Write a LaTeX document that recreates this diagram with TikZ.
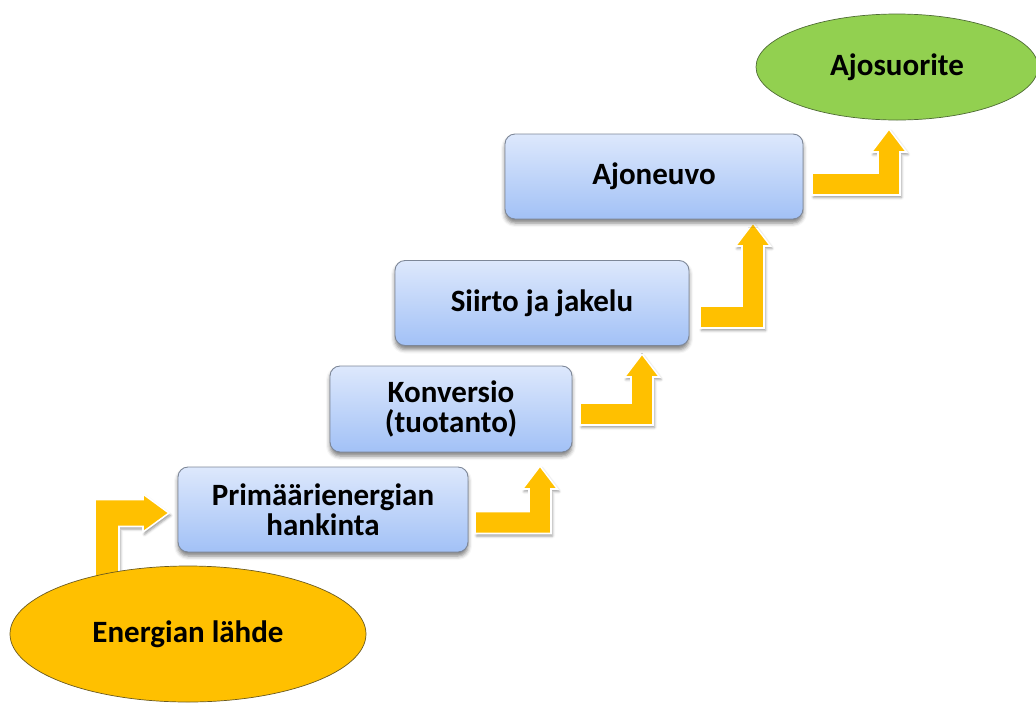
\documentclass[tikz,border=0pt]{standalone}
\usepackage{fontspec}
\setmainfont{Carlito}
\usetikzlibrary{calc,shapes.geometric,shadows.blur}

\definecolor{boxtop}{HTML}{DDE8FC}
\definecolor{boxbot}{HTML}{A2C1F6}
\definecolor{boxedge}{HTML}{7D8798}
\definecolor{arrowyellow}{HTML}{FFC000}
\definecolor{srcfill}{HTML}{FFC000}
\definecolor{srcedge}{HTML}{6B5A20}
\definecolor{goalfill}{HTML}{92D050}
\definecolor{goaledge}{HTML}{4F6B35}

\tikzset{
  labeltext/.style={font=\bfseries\fontsize{31}{30}\selectfont, align=center, text=black},
  stage/.style={labeltext, rounded corners=10pt, draw=boxedge, line width=0.9pt,
    top color=boxtop, bottom color=boxbot, inner sep=0pt,
    blur shadow={shadow xshift=0pt, shadow yshift=-4pt, shadow blur radius=4pt, shadow opacity=50}},
  endpoint/.style={labeltext, ellipse, inner sep=0pt, line width=0.7pt},
  flowarrow/.style={fill=arrowyellow, draw=white, line width=1.6pt, line join=miter,
    blur shadow={shadow xshift=1.5pt, shadow yshift=-2.5pt, shadow blur radius=2.5pt, shadow opacity=40}},
}

% bar runs right from #1, turns upward, head tip at #2
\newcommand\riseArrow[2]{%
  \path[flowarrow] let \p1=(#1), \p2=(#2) in
    (\x1,\y1+11pt) -- (\x2-11pt,\y1+11pt) -- (\x2-11pt,\y2-23pt) -- (\x2-17.5pt,\y2-23pt)
    -- (\x2,\y2) -- (\x2+17.5pt,\y2-23pt) -- (\x2+11pt,\y2-23pt) -- (\x2+11pt,\y1-11pt)
    -- (\x1,\y1-11pt) -- cycle;}

% stem rises from #1, turns right, head tip at #2
\newcommand\turnArrow[2]{%
  \path[flowarrow] let \p1=(#1), \p2=(#2) in
    (\x1-12pt,\y1) -- (\x1-12pt,\y2+13.5pt) -- (\x2-26pt,\y2+13.5pt) -- (\x2-26pt,\y2+19pt)
    -- (\x2,\y2) -- (\x2-26pt,\y2-19pt) -- (\x2-26pt,\y2-13.5pt) -- (\x1+12pt,\y2-13.5pt)
    -- (\x1+12pt,\y1) -- cycle;}

\begin{document}
\begin{tikzpicture}[x=1pt, y=-1pt]
  \useasboundingbox (0,0) rectangle (1036,702);

  % arrow ends
  \coordinate (a1s) at (107,578);
  \coordinate (a1t) at (169,513);
  \coordinate (a2s) at (475,522.5);
  \coordinate (a2t) at (540,466);
  \coordinate (a3s) at (580,414);
  \coordinate (a3t) at (642,354);
  \coordinate (a4s) at (700,317);
  \coordinate (a4t) at (753,223);
  \coordinate (a5s) at (812,184);
  \coordinate (a5t) at (889,129);

  % step arrows
  \turnArrow{a1s}{a1t}
  \riseArrow{a2s}{a2t}
  \riseArrow{a3s}{a3t}
  \riseArrow{a4s}{a4t}
  \riseArrow{a5s}{a5t}

  % stages of the chain
  \node[stage, minimum width=290pt, minimum height=85pt] (prim) at (323,509.5)
    {Primäärienergian\\hankinta};
  \node[stage, minimum width=242pt, minimum height=86pt] (conv) at (451,409)
    {Konversio\\(tuotanto)};
  \node[stage, minimum width=294pt, minimum height=85pt] (dist) at (542,303)
    {Siirto ja jakelu};
  \node[stage, minimum width=298pt, minimum height=85pt] (veh) at (654,176.5)
    {Ajoneuvo};

  % start and end of the chain
  \node[endpoint, draw=srcedge, fill=srcfill, minimum width=356pt, minimum height=136pt]
    (src) at (188,634) {Energian lähde};
  \node[endpoint, draw=goaledge, fill=goalfill, minimum width=282pt, minimum height=106pt]
    (goal) at (897,67) {Ajosuorite};
\end{tikzpicture}
\end{document}
